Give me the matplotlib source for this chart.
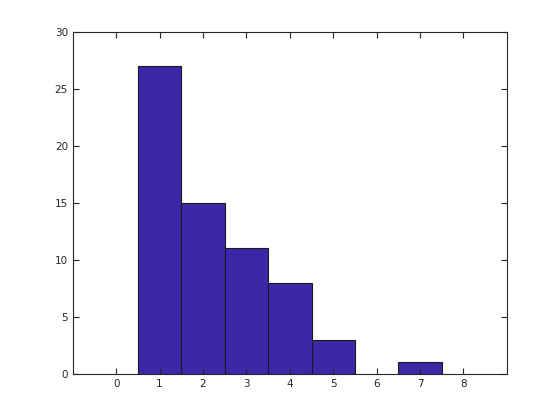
import matplotlib
matplotlib.use("Agg")
import matplotlib.pyplot as plt

centers = [1, 2, 3, 4, 5, 7]
counts = [27, 15, 11, 8, 3, 1]
xticks = [0, 1, 2, 3, 4, 5, 6, 7, 8]
yticks = [0, 5, 10, 15, 20, 25, 30]

fig = plt.figure(figsize=(5.6, 4.2), dpi=100)
ax = fig.add_axes([0.13, 0.11, 0.775, 0.815])

ax.bar(centers, counts, width=1.0, color="#3e26a8", edgecolor="#1a1a1a", linewidth=0.8)

ax.set_xlim(-1, 9)
ax.set_ylim(0, 30)
ax.set_xticks(xticks)
ax.set_yticks(yticks)
ax.tick_params(direction="in", top=True, right=True, length=4, width=0.8,
               labelsize=7.5, labelcolor="#262626", color="#262626")
for s in ax.spines.values():
    s.set_color("#262626")
    s.set_linewidth(0.8)

fig.savefig("out.png", dpi=100)
